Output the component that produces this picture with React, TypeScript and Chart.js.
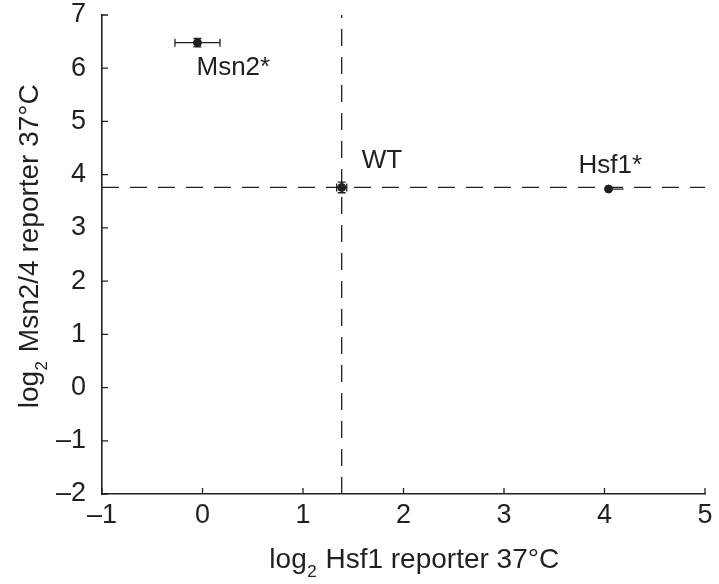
import { useEffect, useRef } from "react";
import { Chart, registerables } from "chart.js";

Chart.register(...registerables);

// ---- data ----
const pointLabels = ["Msn2*", "WT", "Hsf1*"];
const xValues = [-0.05, 1.385, 4.04];
const yValues = [6.48, 3.76, 3.73];
const xErrMinus = [0.224, 0.05, 0.03];
const xErrPlus = [0.224, 0.05, 0.15];
const yErrs = [0.08, 0.1, 0.03];
const xTickValues = [-1, 0, 1, 2, 3, 4, 5];
const yTickValues = [-2, -1, 0, 1, 2, 3, 4, 5, 6, 7];
const xTitleParts = ["log", "2", " Hsf1 reporter 37°C"];
const yTitleParts = ["log", "2", " Msn2/4 reporter 37°C"];
// reference (WT) lines
const refX = xValues[1];
const refY = yValues[1];

const FONT = '"Liberation Sans", Arial, Helvetica, sans-serif';
const INK = "#231f20";

const decorPlugin = {
  id: "decor",
  afterDraw(chart: any) {
    const { ctx, chartArea, scales } = chart;
    const xs = scales.x;
    const ys = scales.y;
    const opts = chart.options.plugins.decor;
    ctx.save();
    ctx.strokeStyle = INK;
    ctx.fillStyle = INK;

    // inward tick marks
    ctx.lineWidth = 1.3;
    ctx.beginPath();
    xTickValues.forEach((v) => {
      const px = xs.getPixelForValue(v);
      ctx.moveTo(px, chartArea.bottom);
      ctx.lineTo(px, chartArea.bottom - 6);
    });
    yTickValues.forEach((v) => {
      const py = ys.getPixelForValue(v);
      ctx.moveTo(chartArea.left, py);
      ctx.lineTo(chartArea.left + 6, py);
    });
    ctx.stroke();

    // error bars
    ctx.lineWidth = 1.3;
    xValues.forEach((xv, i) => {
      const cap = opts.caps[i];
      const yv = yValues[i];
      const px = xs.getPixelForValue(xv);
      const py = ys.getPixelForValue(yv);
      const x0 = xs.getPixelForValue(xv - xErrMinus[i]);
      const x1 = xs.getPixelForValue(xv + xErrPlus[i]);
      const y0 = ys.getPixelForValue(yv - yErrs[i]);
      const y1 = ys.getPixelForValue(yv + yErrs[i]);
      ctx.beginPath();
      ctx.moveTo(x0, py);
      ctx.lineTo(x1, py);
      ctx.moveTo(px, y0);
      ctx.lineTo(px, y1);
      if (cap > 0) {
        ctx.moveTo(x0, py - cap);
        ctx.lineTo(x0, py + cap);
        ctx.moveTo(x1, py - cap);
        ctx.lineTo(x1, py + cap);
        ctx.moveTo(px - cap, y0);
        ctx.lineTo(px + cap, y0);
        ctx.moveTo(px - cap, y1);
        ctx.lineTo(px + cap, y1);
      }
      ctx.stroke();
    });

    // point labels
    const offsets = opts.labelOffsets;
    ctx.font = `26px ${FONT}`;
    ctx.textAlign = "left";
    ctx.textBaseline = "alphabetic";
    pointLabels.forEach((lab, i) => {
      const px = xs.getPixelForValue(xValues[i]);
      const py = ys.getPixelForValue(yValues[i]);
      ctx.fillText(lab, px + offsets[i][0], py + offsets[i][1]);
    });

    // axis titles with subscript
    const drawTitle = (parts: string[]) => {
      const big = `28px ${FONT}`;
      const small = `17px ${FONT}`;
      ctx.font = big;
      const w0 = ctx.measureText(parts[0]).width;
      const w2 = ctx.measureText(parts[2]).width;
      ctx.font = small;
      const w1 = ctx.measureText(parts[1]).width + 1;
      const total = w0 + w1 + w2;
      let x = -total / 2;
      ctx.font = big;
      ctx.fillText(parts[0], x, 0);
      x += w0 + 0.5;
      ctx.font = small;
      ctx.fillText(parts[1], x, 9);
      x += w1;
      ctx.font = big;
      ctx.fillText(parts[2], x, 0);
    };
    ctx.textAlign = "left";
    ctx.save();
    ctx.translate(414, 568);
    drawTitle(xTitleParts);
    ctx.restore();
    ctx.save();
    ctx.translate(38, (chartArea.top + chartArea.bottom) / 2 - 8);
    ctx.rotate(-Math.PI / 2);
    drawTitle(yTitleParts);
    ctx.restore();

    ctx.restore();
  },
};

export default function App() {
  const ref = useRef<HTMLCanvasElement | null>(null);

  useEffect(() => {
    if (!ref.current) return;
    const tickFmt = (v: any) => String(v).replace("-", "\u2013");
    const chart = new Chart(ref.current, {
      type: "scatter",
      data: {
        datasets: [
          {
            label: "strains",
            data: xValues.map((x, i) => ({ x, y: yValues[i] })),
            backgroundColor: INK,
            borderColor: INK,
            pointRadius: 4,
            pointHoverRadius: 4,
            showLine: false,
          },
          {
            label: "WT x",
            data: [
              { x: refX, y: yTickValues[0] },
              { x: refX, y: yTickValues[yTickValues.length - 1] },
            ],
            showLine: true,
            borderColor: INK,
            borderWidth: 1.3,
            borderDash: [17, 11],
            pointRadius: 0,
          },
          {
            label: "WT y",
            data: [
              { x: xTickValues[0], y: refY },
              { x: xTickValues[xTickValues.length - 1], y: refY },
            ],
            showLine: true,
            borderColor: INK,
            borderWidth: 1.3,
            borderDash: [17, 11],
            pointRadius: 0,
          },
        ],
      },
      options: {
        animation: false,
        responsive: false,
        layout: { padding: { top: 15, right: 14, left: 0, bottom: 0 } },
        plugins: {
          legend: { display: false },
          tooltip: { enabled: false },
          decor: {
            labelOffsets: [
              [-1, 32],
              [20, -19],
              [-30, -16],
            ],
            caps: [4, 4, 0],
          },
        } as any,
        scales: {
          x: {
            type: "linear",
            min: -1,
            max: 5,
            grid: { display: false, drawTicks: false },
            border: { display: true, color: INK, width: 1.6 },
            ticks: {
              stepSize: 1,
              autoSkip: false,
              maxRotation: 0,
              padding: 5,
              color: INK,
              font: { family: FONT, size: 27 },
              callback: tickFmt,
            },
            afterFit: (s: any) => {
              s.height = 90;
              s.paddingLeft = 0;
              s.paddingRight = 0;
            },
          },
          y: {
            type: "linear",
            min: -2,
            max: 7,
            grid: { display: false, drawTicks: false },
            border: { display: true, color: INK, width: 1.6 },
            ticks: {
              stepSize: 1,
              autoSkip: false,
              padding: 16,
              color: INK,
              font: { family: FONT, size: 27 },
              callback: tickFmt,
            },
            afterFit: (s: any) => {
              s.width = 102;
              s.paddingTop = 0;
              s.paddingBottom = 0;
            },
          },
        },
      },
      plugins: [decorPlugin],
    } as any);
    return () => chart.destroy();
  }, []);

  return (
    <div style={{ position: "fixed", left: 0, top: 0, width: 719, height: 584, background: "#fff" }}>
      <canvas ref={ref} width={719} height={584} style={{ display: "block" }} />
    </div>
  );
}
